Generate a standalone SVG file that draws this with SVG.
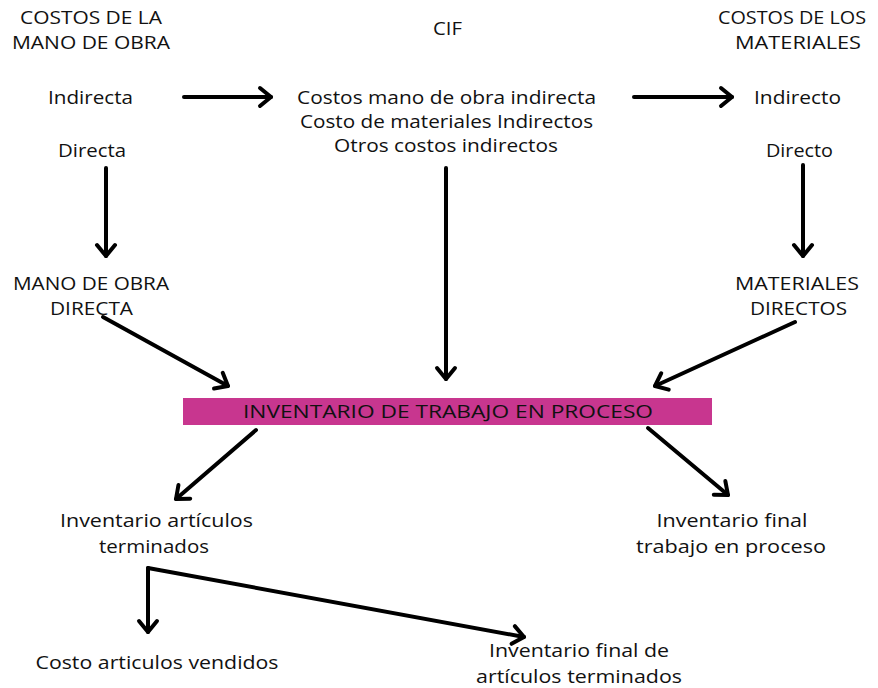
<svg xmlns="http://www.w3.org/2000/svg" width="878" height="688" viewBox="0 0 878 688">
<defs>
<style>
text{font-family:"Open Sans","Noto Sans",sans-serif;font-size:18px;fill:#111;text-anchor:middle}
.c{stroke:#000;stroke-width:4;fill:none;stroke-linecap:round}
</style>
<marker id="ah" markerUnits="userSpaceOnUse" markerWidth="30" markerHeight="30" viewBox="-15 -15 30 30" refX="0" refY="0" orient="auto" overflow="visible">
<path d="M-11,-9 L0,0 L-11,9" fill="none" stroke="#000" stroke-width="4" stroke-linecap="round" stroke-linejoin="round"/>
</marker>
</defs>
<rect width="878" height="688" fill="#fff"/>
<g id="costos-mano-obra"><text x="91" y="24" textLength="142" lengthAdjust="spacingAndGlyphs">COSTOS DE LA</text><text x="91" y="49" textLength="158" lengthAdjust="spacingAndGlyphs">MANO DE OBRA</text></g>
<g id="cif"><text x="447.5" y="35" textLength="29" lengthAdjust="spacingAndGlyphs">CIF</text></g>
<g id="costos-materiales"><text x="792" y="24" textLength="148" lengthAdjust="spacingAndGlyphs">COSTOS DE LOS</text><text x="798" y="49" textLength="126" lengthAdjust="spacingAndGlyphs">MATERIALES</text></g>
<g id="mo-indirecta"><text x="90.5" y="104" textLength="85" lengthAdjust="spacingAndGlyphs">Indirecta</text></g>
<g id="mo-directa"><text x="92" y="157" textLength="68" lengthAdjust="spacingAndGlyphs">Directa</text></g>
<g id="cif-lista"><text x="446.5" y="104" textLength="299" lengthAdjust="spacingAndGlyphs">Costos mano de obra indirecta</text><text x="446.5" y="128" textLength="293" lengthAdjust="spacingAndGlyphs">Costo de materiales Indirectos</text><text x="446" y="152" textLength="224" lengthAdjust="spacingAndGlyphs">Otros costos indirectos</text></g>
<g id="mat-indirecto"><text x="797.5" y="104" textLength="87" lengthAdjust="spacingAndGlyphs">Indirecto</text></g>
<g id="mat-directo"><text x="799.5" y="157" textLength="67" lengthAdjust="spacingAndGlyphs">Directo</text></g>
<g id="mano-obra-directa"><text x="91" y="290" textLength="156" lengthAdjust="spacingAndGlyphs">MANO DE OBRA</text><text x="91.5" y="315" textLength="83" lengthAdjust="spacingAndGlyphs">DIRECTA</text></g>
<g id="materiales-directos"><text x="797" y="290" textLength="124" lengthAdjust="spacingAndGlyphs">MATERIALES</text><text x="798.5" y="315" textLength="97" lengthAdjust="spacingAndGlyphs">DIRECTOS</text></g>
<g id="itp"><rect x="183" y="398" width="529" height="27" fill="#C8368F"/><text x="448" y="418" style="font-size:19px" textLength="410" lengthAdjust="spacingAndGlyphs">INVENTARIO DE TRABAJO EN PROCESO</text></g>
<g id="inv-art-term"><text x="156.5" y="527" textLength="193" lengthAdjust="spacingAndGlyphs">Inventario artículos</text><text x="154" y="553" textLength="110" lengthAdjust="spacingAndGlyphs">terminados</text></g>
<g id="inv-final-tp"><text x="732" y="527" textLength="151" lengthAdjust="spacingAndGlyphs">Inventario final</text><text x="731" y="553" textLength="190" lengthAdjust="spacingAndGlyphs">trabajo en proceso</text></g>
<g id="costo-art-vend"><text x="157" y="669" textLength="243" lengthAdjust="spacingAndGlyphs">Costo articulos vendidos</text></g>
<g id="inv-final-at"><text x="579" y="657" textLength="180" lengthAdjust="spacingAndGlyphs">Inventario final de</text><text x="579" y="683" textLength="206" lengthAdjust="spacingAndGlyphs">artículos terminados</text></g>
<g id="connectors">
<line class="c" x1="184" y1="97" x2="271" y2="97" marker-end="url(#ah)"/>
<line class="c" x1="634" y1="97" x2="732" y2="97" marker-end="url(#ah)"/>
<line class="c" x1="106" y1="168" x2="106" y2="256" marker-end="url(#ah)"/>
<line class="c" x1="446" y1="168" x2="446" y2="379" marker-end="url(#ah)"/>
<line class="c" x1="803" y1="165" x2="803" y2="256" marker-end="url(#ah)"/>
<line class="c" x1="103" y1="317" x2="228" y2="386" marker-end="url(#ah)"/>
<line class="c" x1="795" y1="322" x2="655" y2="386" marker-end="url(#ah)"/>
<line class="c" x1="256" y1="430" x2="176" y2="499" marker-end="url(#ah)"/>
<line class="c" x1="648" y1="428" x2="728" y2="495" marker-end="url(#ah)"/>
<line class="c" x1="148" y1="568" x2="148" y2="632" marker-end="url(#ah)"/>
<line class="c" x1="148" y1="568" x2="524" y2="637" marker-end="url(#ah)"/>
</g>
</svg>
